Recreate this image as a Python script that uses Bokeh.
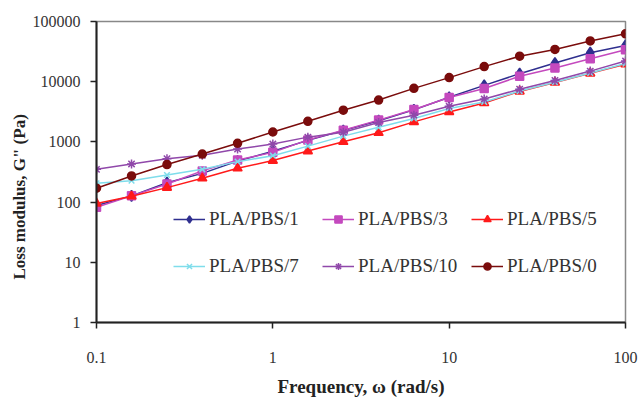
from bokeh.plotting import figure
from bokeh.models import Legend, LegendItem, FixedTicker, CustomJSTickFormatter, Title
from bokeh.embed import file_html
from bokeh.resources import INLINE

freq = [0.1, 0.158, 0.251, 0.398, 0.631, 1.0, 1.58, 2.51, 3.98, 6.31,
        10.0, 15.8, 25.1, 39.8, 63.1, 100.0]

pbs1 = [88, 127, 210, 300, 480, 700, 1060, 1540, 2250, 3400,
        5500, 8700, 13600, 20400, 30300, 40100]
pbs3 = [82, 127, 200, 330, 500, 670, 1080, 1560, 2300, 3450,
        5460, 7700, 12300, 16900, 24100, 34000]
pbs5 = [95, 125, 174, 249, 365, 490, 705, 1005, 1420, 2150,
        3150, 4440, 6900, 9700, 13800, 19500]
pbs7 = [205, 227, 282, 351, 470, 590, 851, 1247, 1750, 2450,
        3590, 4610, 7000, 9800, 14000, 20000]
pbs10 = [350, 430, 525, 600, 760, 920, 1200, 1450, 2100, 2780,
         3900, 5150, 7500, 10500, 15000, 22000]
pbs0 = [170, 272, 420, 628, 950, 1460, 2200, 3360, 4950, 7750,
        11700, 17800, 26500, 34400, 47500, 62500]

names = ["PLA/PBS/1", "PLA/PBS/3", "PLA/PBS/5", "PLA/PBS/7", "PLA/PBS/10", "PLA/PBS/0"]
values = [pbs1, pbs3, pbs5, pbs7, pbs10, pbs0]
colors = ["#2F2F8F", "#C449BE", "#FF1A1A", "#7FDDEB", "#9048AA", "#7A0C0C"]
markers = ["diamond", "square", "triangle", "x", "asterisk", "circle"]
sizes = [11, 8, 9, 8, 9, 8]

x_ticks = [0.1, 1, 10, 100]
y_ticks = [1, 10, 100, 1000, 10000, 100000]

x_title = "Frequency, \u03c9 (rad/s)"
y_title = "Loss modulus, G\" (Pa)"

p = figure(width=638, height=399, x_axis_type="log", y_axis_type="log",
           x_range=(0.1, 100), y_range=(1, 100000),
           output_backend="svg", toolbar_location=None,
           min_border_left=96, min_border_right=13, min_border_top=21,
           min_border_bottom=76)

p.grid.visible = False
p.outline_line_color = "#888888"
p.outline_line_width = 1.5
p.background_fill_color = "white"
p.border_fill_color = "white"

fmt = CustomJSTickFormatter(code="return String(Number(tick.toPrecision(6)));")
p.xaxis.ticker = FixedTicker(ticks=x_ticks)
p.yaxis.ticker = FixedTicker(ticks=y_ticks)
p.xaxis.formatter = fmt
p.yaxis.formatter = fmt

for ax in (p.xaxis, p.yaxis):
    ax.axis_line_color = "#222222"
    ax.axis_line_width = 2
    ax.major_tick_line_color = "#222222"
    ax.major_tick_line_width = 1.5
    ax.major_tick_in = 0
    ax.major_tick_out = 6
    ax.minor_tick_line_color = None
    ax.major_label_text_font = "Liberation Serif"
    ax.major_label_text_font_size = "16px"
    ax.major_label_text_color = "#333333"
    ax.axis_label_text_font = "Liberation Serif"
    ax.axis_label_text_font_style = "bold"
    ax.axis_label_text_color = "#222222"

p.xaxis.axis_label = x_title
p.xaxis.axis_label_text_font_size = "19px"
p.xaxis.major_label_standoff = 23
p.xaxis.axis_label_standoff = 10
p.yaxis.major_label_standoff = 10

# y-axis title as a side title in the left panel
p.add_layout(Title(text=y_title, align="left", offset=43, text_font="Liberation Serif",
                   text_font_size="17px", text_font_style="bold",
                   text_color="#222222", standoff=2), "left")

items = []
for name, vals, c, m, s in zip(names, values, colors, markers, sizes):
    ln = p.line(freq, vals, line_color=c, line_width=1.5)
    sc = p.scatter(freq, vals, marker=m, size=s, fill_color=c, line_color=c, line_width=1.5)
    items.append(LegendItem(label=name, renderers=[ln, sc]))


def make_legend(its, loc):
    return Legend(items=its, location=loc, orientation="horizontal",
                  glyph_width=32, glyph_height=18, label_height=18, label_width=100,
                  spacing=13, padding=0, margin=0, label_standoff=4,
                  border_line_alpha=0, background_fill_alpha=0,
                  label_text_font="Liberation Serif", label_text_font_size="19px",
                  label_text_color="#333333")


p.add_layout(make_legend(items[:3], (77, 92)))
p.add_layout(make_legend(items[3:], (77, 45)))

open("out.html", "w").write(file_html(p, INLINE))
